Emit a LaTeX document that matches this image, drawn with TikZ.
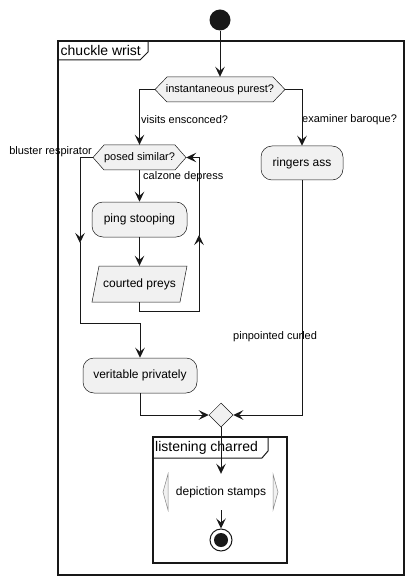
\documentclass[tikz,border=0pt]{standalone}
\usepackage{fontspec}
\setmainfont{Liberation Sans}
\usetikzlibrary{arrows.meta,shapes.geometric}
\definecolor{linec}{HTML}{181818}
\definecolor{nfill}{HTML}{F1F1F1}
\definecolor{brk}{HTML}{888888}
\begin{document}
\begin{tikzpicture}[x=1pt,y=-1pt,
  conn/.style={draw=linec, line width=1pt},
  arr/.style={conn, -{Stealth[length=10pt,width=9.5pt,inset=4pt]}},
  shapeline/.style={draw=linec, fill=nfill, line width=0.5pt},
  action/.style={shapeline, rounded corners=11pt, inner sep=0, font=\fontsize{12}{14}\selectfont},
  plain/.style={inner sep=0, font=\fontsize{12}{14}\selectfont},
  deci/.style={inner sep=0, font=\fontsize{11}{13}\selectfont},
  lbl/.style={inner sep=0, font=\fontsize{11}{13}\selectfont},
  framebox/.style={draw=linec, line width=1.5pt},
  tabline/.style={draw=linec, line width=1pt},
  ftitle/.style={inner sep=0, anchor=west, font=\fontsize{14}{16}\selectfont},
]
\useasboundingbox (0,0) rectangle (414,585);

% frames
\draw[framebox] (58,41) rectangle (404,575);
\draw[tabline] (58,60) -- (140,60) -- (148,52) -- (148,41);
\node[ftitle] (fw) at (60.5,50.5) {chuckle wrist};

\draw[framebox] (153,437) rectangle (287,563);
\draw[tabline] (153,458) -- (262,458) -- (268,451) -- (268,437);
\node[ftitle] (fl) at (155,447.5) {listening charred};

% start
\node[circle, fill=linec, minimum size=21pt, inner sep=0] (start) at (220,20) {};

% decision 1
\draw[shapeline] (155,89.5) -- (167,77) -- (273,77) -- (285,89.5) -- (273,102) -- (167,102) -- cycle;
\node[deci, minimum width=130pt, minimum height=25pt] (d1) at (220,89.5) {instantaneous purest?};

% decision 2
\draw[shapeline] (93,157.5) -- (104,145) -- (175,145) -- (186,157.5) -- (175,170) -- (104,170) -- cycle;
\node[deci, minimum width=93pt, minimum height=25pt] (ps) at (139.5,157.5) {posed similar?};

% actions
\node[action, minimum width=82pt, minimum height=34pt] (ra) at (302,163) {ringers ass};
\node[action, minimum width=95pt, minimum height=35pt] (pst) at (139.5,219.5) {ping stooping};
\draw[shapeline] (99,266) -- (187,266) -- (180,302) -- (92,302) -- cycle;
\node[plain, minimum width=95pt, minimum height=36pt] (cp) at (139.5,284) {courted preys};
\node[action, minimum width=114pt, minimum height=35pt] (vp) at (140,375.5) {veritable privately};

% merge
\node[diamond, aspect=1, shapeline, minimum width=24pt, minimum height=24pt, inner sep=0] (m) at (221,415) {};

% depiction stamps
\draw[draw=brk, fill=nfill, line width=0.5pt] (168,474) -- (163,492) -- (168,510) -- cycle;
\draw[draw=brk, fill=nfill, line width=0.5pt] (273,474) -- (278,492) -- (273,510) -- cycle;
\node[plain, minimum width=115pt, minimum height=36pt] (ds) at (221,492) {depiction stamps};

% end
\node[circle, draw=linec, line width=1pt, fill=white, minimum size=22pt, inner sep=0] (end) at (221,540) {};
\node[circle, fill=linec, minimum size=14pt, inner sep=0] (endi) at (end.center) {};

% labels
\node[lbl, anchor=west] (l1) at (141,120) {visits ensconced?};
\node[lbl, anchor=west] (l2) at (302,120) {examiner baroque?};
\node[lbl, anchor=east] (l3) at (92,152) {bluster respirator};
\node[lbl, anchor=west] (l4) at (143,177) {calzone depress};
\node[lbl, anchor=west] (l5) at (233,337) {pinpointed curled};

% connectors
\coordinate (la) at (80,243);
\coordinate (lb) at (80,242);
\coordinate (lc) at (140,323);
\coordinate (ra1) at (199,311);
\coordinate (ra2) at (199,235);
\coordinate (ra3) at (199,236);

\draw[arr] (start) -- (d1.north);
\draw[arr] (d1.west) -| (ps.north);
\draw[arr] (d1.east) -| (ra.north);
\draw[arr] (ps.south) -- (pst.north);
\draw[arr] (pst.south) -- (cp.north);
\draw[arr] (cp.south) |- (ra1) -- (ra2);
\draw[arr] (ra3) |- (ps.east);
\draw[arr] (ps.west) -| (la);
\draw[arr] (lb) |- (lc) -- (vp.north);
\draw[arr] (vp.south) |- (m.west);
\draw[arr] (ra.south) |- (m.east);
\draw[arr] (m.south) -- (ds.north);
\draw[arr] (ds.south) -- (end.north);
\end{tikzpicture}
\end{document}
